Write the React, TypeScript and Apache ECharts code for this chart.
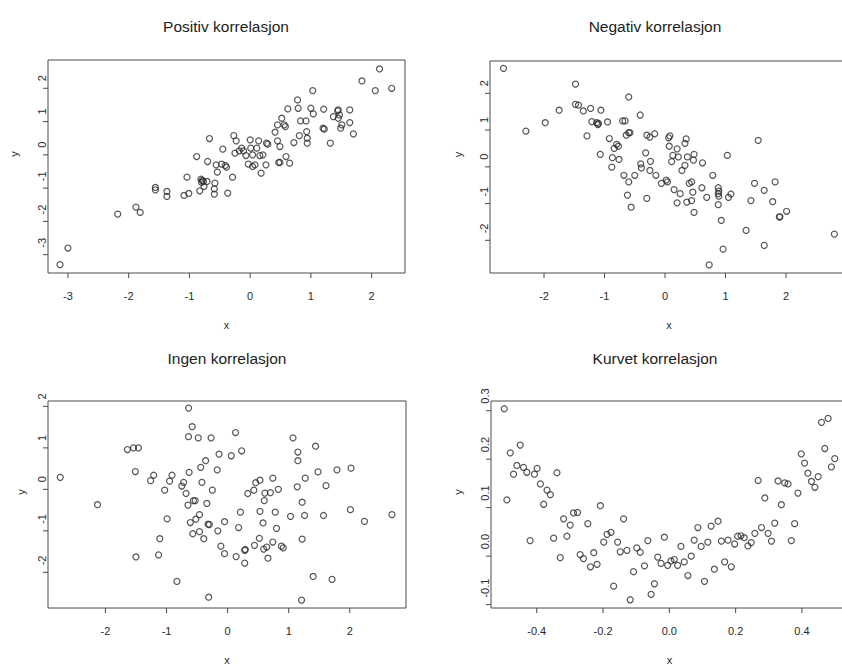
import { useEffect, useRef } from "react";
import * as echarts from "echarts";

// Four scatter panels illustrating different kinds of correlation.
const positivPoints: [number, number][] = [
  [-3.13, -3.3], [-3.0, -2.8], [-2.18, -1.78], [-1.88, -1.57], [-1.81, -1.73], [-1.56, -0.98],
  [-1.56, -1.05], [-1.37, -1.1], [-1.37, -1.25], [-1.09, -1.22], [-1.01, -1.16], [-1.04, -0.67],
  [-0.88, -0.05], [-0.83, -1.08], [-0.81, -0.73], [-0.79, -0.77], [-0.77, -0.8], [-0.8, -0.83],
  [-0.71, -0.8], [-0.76, -0.95], [-0.7, -0.2], [-0.67, 0.49], [-0.58, -0.85], [-0.59, -1.02],
  [-0.59, -1.18], [-0.56, -0.3], [-0.54, -0.52], [-0.45, 0.17], [-0.47, -0.28], [-0.41, -0.32],
  [-0.39, -0.37], [-0.37, -1.15], [-0.29, -0.67], [-0.27, 0.58], [-0.23, 0.42], [-0.25, 0.05],
  [-0.18, 0.12], [-0.14, 0.2], [-0.11, 0.12], [-0.07, -0.02], [-0.03, -0.28], [0.0, 0.45],
  [0.01, 0.2], [0.04, 0.0], [0.04, -0.35], [0.08, -0.3], [0.11, 0.2], [0.14, 0.42],
  [0.16, -0.02], [0.21, 0.0], [0.18, -0.55], [0.26, -0.3], [0.27, 0.35], [0.29, 0.32],
  [0.41, 0.68], [0.45, 0.42], [0.45, 0.9], [0.47, -0.23], [0.49, -0.23], [0.49, 0.25],
  [0.52, 1.1], [0.56, 0.9], [0.58, 0.85], [0.59, -0.05], [0.62, 1.38], [0.65, -0.25],
  [0.72, 0.37], [0.78, 1.65], [0.79, 1.4], [0.81, 0.58], [0.83, 1.02], [0.92, 1.02],
  [0.93, 0.7], [0.94, 0.5], [0.94, 0.35], [1.0, 1.4], [1.03, 1.93], [1.04, 1.23],
  [1.21, 1.37], [1.2, 0.8], [1.22, 0.77], [1.32, 0.35], [1.37, 1.15], [1.44, 1.32],
  [1.45, 1.35], [1.45, 1.1], [1.47, 1.2], [1.49, 0.8], [1.51, 0.9], [1.64, 1.35],
  [1.64, 0.97], [1.7, 0.63], [1.84, 2.22], [2.06, 1.93], [2.13, 2.58], [2.33, 2.0],
];

const negativPoints: [number, number][] = [
  [-2.67, 2.68], [-2.3, 0.97], [-1.98, 1.2], [-1.75, 1.54], [-1.48, 2.25], [-1.48, 1.7],
  [-1.43, 1.68], [-1.35, 1.52], [-1.29, 0.84], [-1.23, 1.59], [-1.21, 1.23], [-1.13, 1.2],
  [-1.11, 1.15], [-1.1, 1.18], [-1.07, 0.34], [-1.06, 1.54], [-0.95, 1.22], [-0.92, 0.77],
  [-0.87, 0.25], [-0.88, -0.01], [-0.84, 0.5], [-0.8, 0.61], [-0.77, 0.56], [-0.76, 0.2],
  [-0.7, 1.25], [-0.66, 1.25], [-0.68, -0.23], [-0.64, 0.86], [-0.62, -0.77], [-0.6, 1.9],
  [-0.6, 0.93], [-0.58, 0.93], [-0.6, -0.41], [-0.56, -1.1], [-0.5, -0.23], [-0.41, 1.41],
  [-0.4, 0.08], [-0.39, -0.03], [-0.32, 0.38], [-0.3, 0.86], [-0.3, -0.86], [-0.25, 0.81],
  [-0.24, 0.15], [-0.25, -0.1], [-0.17, 0.9], [-0.15, -0.23], [-0.06, -0.45], [0.02, -0.36],
  [0.04, -0.41], [0.06, 0.79], [0.08, 0.84], [0.07, 0.56], [0.11, 0.14], [0.13, 0.31],
  [0.15, -0.62], [0.2, 0.49], [0.22, 0.27], [0.2, -0.98], [0.25, -0.73], [0.28, -0.1],
  [0.33, 0.04], [0.33, 0.64], [0.35, 0.76], [0.36, -0.96], [0.37, 0.27], [0.4, -0.45],
  [0.44, -0.41], [0.44, -0.92], [0.46, -0.69], [0.48, 0.34], [0.47, 0.18], [0.48, -1.24],
  [0.61, -0.57], [0.62, 0.11], [0.69, -0.83], [0.79, -0.23], [0.88, -0.57], [0.89, -0.66],
  [0.88, -0.73], [0.89, -0.8], [0.88, -1.03], [0.93, -1.46], [0.96, -2.24], [0.73, -2.67],
  [1.03, 0.31], [1.05, -0.83], [1.09, -0.74], [1.34, -1.73], [1.42, -0.92], [1.48, -0.45],
  [1.54, 0.72], [1.64, -2.14], [1.64, -0.64], [1.78, -0.95], [1.82, -0.41], [1.89, -1.36],
  [1.9, -1.36], [2.01, -1.21], [2.8, -1.83],
];

const ingenPoints: [number, number][] = [
  [-2.74, 0.29], [-2.13, -0.37], [-1.64, 0.96], [-1.54, 1.0], [-1.46, 1.0], [-1.51, 0.43],
  [-1.5, -1.63], [-1.26, 0.21], [-1.21, 0.34], [-1.11, -1.19], [-1.13, -1.58], [-1.03, -0.02],
  [-0.99, -0.71], [-0.95, 0.2], [-0.91, 0.34], [-0.83, -2.22], [-0.75, 0.08], [-0.72, 0.17],
  [-0.68, -0.1], [-0.65, -0.38], [-0.64, 1.96], [-0.64, 1.27], [-0.63, 0.41], [-0.61, -0.8],
  [-0.58, 1.51], [-0.57, -1.07], [-0.56, -0.27], [-0.53, -0.27], [-0.52, -0.72], [-0.48, 1.24],
  [-0.46, -0.61], [-0.46, -1.02], [-0.44, 0.53], [-0.42, 0.17], [-0.39, -1.19], [-0.36, 0.69],
  [-0.34, -0.34], [-0.31, -2.6], [-0.32, -0.84], [-0.3, -0.85], [-0.27, 1.24], [-0.25, -0.02],
  [-0.17, 0.47], [-0.16, -1.0], [-0.14, 0.85], [-0.11, -1.37], [-0.05, -0.78], [-0.05, -1.55],
  [0.06, 0.81], [0.13, 1.37], [0.14, -1.62], [0.18, -0.92], [0.21, -0.55], [0.23, 0.93],
  [0.28, -1.47], [0.29, -1.45], [0.28, -1.78], [0.33, -0.1], [0.43, -0.02], [0.44, -1.35],
  [0.46, 0.16], [0.52, -1.18], [0.53, 0.22], [0.53, -0.53], [0.58, -0.81], [0.59, -1.44],
  [0.6, -0.27], [0.61, -0.09], [0.64, -1.39], [0.66, -1.66], [0.7, -0.08], [0.74, 0.27],
  [0.74, -1.27], [0.78, -0.55], [0.8, -0.94], [0.83, 0.0], [0.88, -1.37], [0.91, -1.41],
  [1.03, -0.65], [1.07, 1.24], [1.14, 0.06], [1.15, 0.69], [1.15, 0.9], [1.22, -0.31],
  [1.22, -1.2], [1.21, -2.67], [1.26, -0.63], [1.27, 0.27], [1.4, -2.1], [1.44, 1.04],
  [1.48, 0.42], [1.57, -0.63], [1.61, 0.09], [1.71, -2.17], [1.79, 0.47], [2.01, -0.49],
  [2.02, 0.51], [2.24, -0.77], [2.69, -0.61],
];

const kurvetPoints: [number, number][] = [
  [-0.498, 0.304], [-0.49, 0.116], [-0.48, 0.213], [-0.47, 0.169], [-0.46, 0.187], [-0.45, 0.229],
  [-0.44, 0.183], [-0.43, 0.173], [-0.42, 0.032], [-0.407, 0.169], [-0.399, 0.181], [-0.389, 0.149],
  [-0.379, 0.107], [-0.369, 0.136], [-0.359, 0.127], [-0.349, 0.037], [-0.339, 0.172], [-0.329, -0.003],
  [-0.319, 0.077], [-0.309, 0.041], [-0.299, 0.064], [-0.289, 0.089], [-0.277, 0.09], [-0.269, 0.003],
  [-0.259, -0.005], [-0.246, 0.067], [-0.238, -0.022], [-0.228, 0.007], [-0.218, -0.017], [-0.208, 0.104],
  [-0.198, 0.029], [-0.188, 0.045], [-0.176, 0.049], [-0.168, -0.062], [-0.156, 0.029], [-0.148, 0.009],
  [-0.138, 0.077], [-0.128, 0.012], [-0.118, -0.09], [-0.108, -0.032], [-0.098, 0.017], [-0.088, 0.008],
  [-0.075, -0.02], [-0.065, 0.032], [-0.055, -0.079], [-0.045, -0.057], [-0.035, -0.002], [-0.025, -0.015],
  [-0.015, 0.039], [-0.005, -0.019], [0.005, -0.01], [0.015, -0.007], [0.025, -0.019], [0.035, 0.02],
  [0.045, -0.012], [0.056, -0.04], [0.066, 0.0], [0.075, 0.033], [0.086, 0.059], [0.096, 0.02],
  [0.106, -0.052], [0.116, 0.029], [0.126, 0.062], [0.136, -0.027], [0.147, 0.072], [0.157, 0.031],
  [0.167, -0.012], [0.177, 0.033], [0.187, -0.022], [0.197, 0.025], [0.206, 0.041], [0.216, 0.042],
  [0.226, 0.038], [0.237, 0.021], [0.247, 0.028], [0.258, 0.047], [0.268, 0.156], [0.278, 0.059],
  [0.288, 0.12], [0.298, 0.047], [0.308, 0.031], [0.318, 0.068], [0.328, 0.155], [0.338, 0.106],
  [0.348, 0.151], [0.358, 0.149], [0.368, 0.032], [0.378, 0.067], [0.388, 0.13], [0.398, 0.211],
  [0.408, 0.192], [0.418, 0.171], [0.429, 0.154], [0.439, 0.142], [0.449, 0.164], [0.459, 0.276],
  [0.469, 0.222], [0.479, 0.284], [0.489, 0.184], [0.499, 0.201],
];

const panelTitles = ["Positiv korrelasjon", "Negativ korrelasjon", "Ingen korrelasjon", "Kurvet korrelasjon"];

const xTickValues = [
  [-3, -2, -1, 0, 1, 2],
  [-2, -1, 0, 1, 2, 3],
  [-2, -1, 0, 1, 2],
  [-0.4, -0.2, 0, 0.2, 0.4],
];
const yTickValues = [
  [-3, -2, -1, 0, 1, 2],
  [-2, -1, 0, 1, 2],
  [-2, -1, 0, 1, 2],
  [-0.1, 0, 0.1, 0.2, 0.3],
];
const xLimits = [[-3.328, 2.549], [-2.893, 3.025], [-2.94, 2.92], [-0.538, 0.539]];
const yLimits = [[-3.55, 2.85], [-2.89, 2.88], [-2.86, 2.13], [-0.107, 0.32]];
const decimals = [0, 0, 0, 1];

// plot boxes in pixels
const boxes = [
  { left: 48, top: 60, width: 357, height: 213 },
  { left: 490, top: 61, width: 358, height: 212 },
  { left: 48, top: 401, width: 358, height: 212 },
  { left: 491, top: 401, width: 357, height: 212 },
];
const titleAnchors = [[226, 26], [655, 26], [227, 358], [655, 358]];
const yNameGaps = [29, 27, 22, 28];
const TICK_LEN = 5;

const FONT = "'Liberation Sans', Arial, Helvetica, sans-serif";
const INK = "#2a2a2a";
const FRAME = "#4a4a4a";

const allPoints = [positivPoints, negativPoints, ingenPoints, kurvetPoints];

// Tick marks on the bottom (kind 0) and left (kind 1) edges of each box.
function tickSeries(i: number) {
  const data: number[][] = [
    ...xTickValues[i].map((v) => [v, yLimits[i][0], 0]),
    ...yTickValues[i].map((v) => [xLimits[i][0], v, 1]),
  ];
  return {
    type: "custom",
    xAxisIndex: i,
    yAxisIndex: i,
    silent: true,
    clip: false,
    dimensions: ["x", "y", "kind"],
    encode: { x: 0, y: 1 },
    data,
    renderItem: (_params: any, api: any) => {
      const p = api.coord([api.value(0), api.value(1)]);
      const vertical = api.value(2) === 0;
      return {
        type: "line",
        shape: vertical
          ? { x1: p[0], y1: p[1], x2: p[0], y2: p[1] + TICK_LEN }
          : { x1: p[0], y1: p[1], x2: p[0] - TICK_LEN, y2: p[1] },
        style: { stroke: FRAME, lineWidth: 1 },
      };
    },
  };
}

function buildOption(): echarts.EChartsOption {
  return {
    animation: false,
    backgroundColor: "#fff",
    grid: boxes.map((b) => ({
      ...b,
      show: true,
      borderColor: FRAME,
      borderWidth: 1,
      backgroundColor: "transparent",
    })),
    xAxis: boxes.map((_, i) => ({
      type: "value",
      gridIndex: i,
      position: "bottom",
      min: xLimits[i][0],
      max: xLimits[i][1],
      splitLine: { show: false },
      axisLine: { show: false, onZero: false },
      axisTick: { show: false },
      axisLabel: {
        customValues: xTickValues[i],
        formatter: (v: number) => v.toFixed(decimals[i]),
        color: INK,
        fontSize: 11,
        fontFamily: FONT,
        margin: 17,
      },
      name: "x",
      nameLocation: "middle",
      nameGap: 46,
      nameTextStyle: { color: INK, fontSize: 11, fontFamily: FONT },
    })),
    yAxis: boxes.map((_, i) => ({
      type: "value",
      gridIndex: i,
      position: "left",
      min: yLimits[i][0],
      max: yLimits[i][1],
      splitLine: { show: false },
      axisLine: { show: false, onZero: false },
      axisTick: { show: false },
      axisLabel: {
        customValues: yTickValues[i],
        formatter: (v: number) => v.toFixed(decimals[i]),
        color: INK,
        fontSize: 11,
        fontFamily: FONT,
        rotate: 90,
        align: "left",
        verticalAlign: "bottom",
        padding: [0, 0, 0, 7],
        margin: 1,
      },
      name: "y",
      nameLocation: "middle",
      nameRotate: 90,
      nameGap: yNameGaps[i],
      nameTextStyle: {
        color: INK,
        fontSize: 11,
        fontFamily: FONT,
        padding: [0, 0, 0, 25],
      },
    })),
    series: [
      ...allPoints.map((pts, i) => ({
        type: "scatter",
        xAxisIndex: i,
        yAxisIndex: i,
        data: pts,
        symbol: "circle",
        symbolSize: 6,
        itemStyle: { color: "rgba(0,0,0,0)", borderColor: INK, borderWidth: 1.2 },
        emphasis: { disabled: true },
      })),
      ...boxes.map((_, i) => tickSeries(i)),
    ],
    graphic: panelTitles.map((t, i) => ({
      type: "text",
      x: titleAnchors[i][0],
      y: titleAnchors[i][1],
      style: {
        text: t,
        fill: "#222",
        fontSize: 15.5,
        fontFamily: FONT,
        align: "center",
        verticalAlign: "middle",
        textAlign: "center",
        textVerticalAlign: "middle",
      },
    })),
  } as echarts.EChartsOption;
}

export default function App() {
  const ref = useRef<HTMLDivElement>(null);

  useEffect(() => {
    if (!ref.current) return;
    const chart = echarts.init(ref.current, undefined, { renderer: "svg" });
    chart.setOption(buildOption());
    return () => chart.dispose();
  }, []);

  return (
    <div
      style={{
        position: "fixed",
        left: 0,
        top: 0,
        width: 842,
        height: 666,
        overflow: "hidden",
        background: "#fff",
      }}
    >
      <div ref={ref} style={{ width: 860, height: 666 }} />
    </div>
  );
}
